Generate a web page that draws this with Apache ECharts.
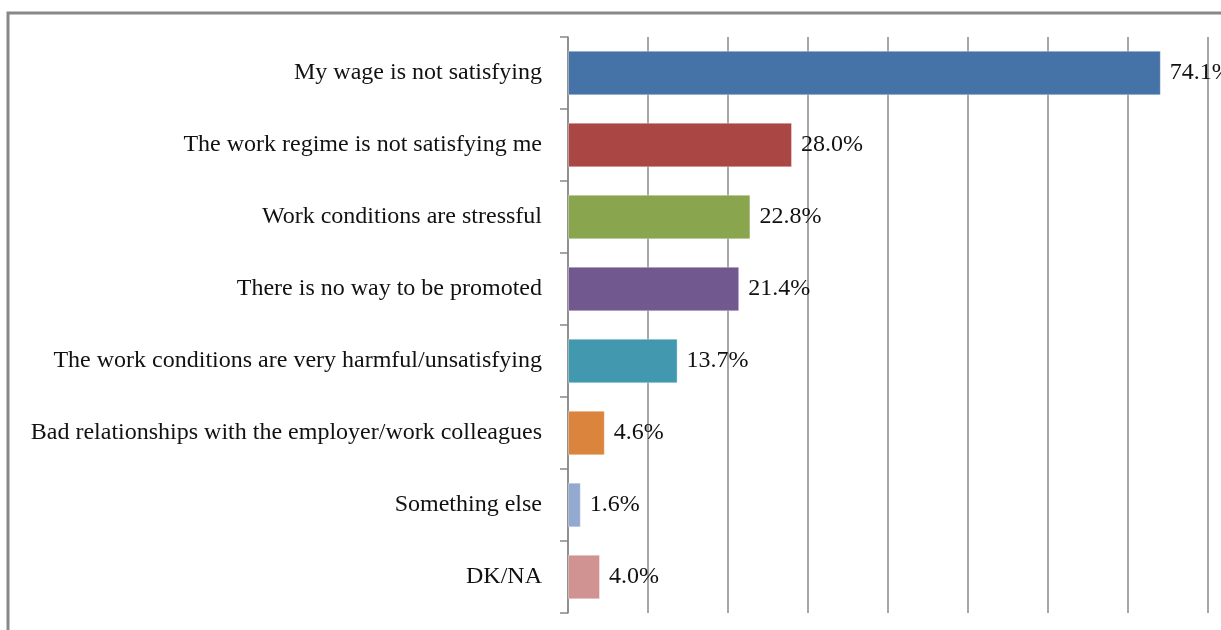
<!DOCTYPE html>
<html>
<head>
<meta charset="utf-8">
<script src="https://cdn.jsdelivr.net/npm/echarts@6/dist/echarts.min.js"></script>
<style>
  html, body { margin: 0; padding: 0; background: #fff; }
  #chart { width: 1221px; height: 630px; }
</style>
</head>
<body>
<div id="chart"></div>
<script>
// categories, top to bottom as in the picture
let reasons = [
	"My wage is not satisfying",
	"The work regime is not satisfying me",
	"Work conditions are stressful",
	"There is no way to be promoted",
	"The work conditions are very harmful/unsatisfying",
	"Bad relationships with the employer/work colleagues",
	"Something else",
	"DK/NA"
];
let shares = [74.1, 28.0, 22.8, 21.4, 13.7, 4.6, 1.6, 4.0];
let barColors = ["#4572A7", "#AA4643", "#89A54E", "#71588F", "#4198AF", "#DB843D", "#93A9CF", "#D19392"];
let xTicks = [0, 10, 20, 30, 40, 50, 60, 70, 80];

let myEchart = echarts.init(document.getElementById("chart"));
let serif = "'Liberation Serif', serif";

let opt = {
	animation: false,
	graphic: [{
		type: "rect",
		shape: { x: 8, y: 13, width: 1240, height: 640 },
		style: { fill: "none", stroke: "#888", lineWidth: 3 }
	}],
	grid: { left: 568, right: 13, top: 37, height: 576 },
	xAxis: {
		type: "value",
		min: xTicks[0],
		max: xTicks[xTicks.length - 1],
		interval: 10,
		axisLabel: { show: false },
		axisLine: { show: false },
		axisTick: { show: false },
		splitLine: { lineStyle: { color: "#888", width: 1.5 } }
	},
	yAxis: {
		type: "category",
		inverse: true,
		data: reasons,
		axisLine: { lineStyle: { color: "#888", width: 1.5 } },
		axisTick: { show: true, length: 8, lineStyle: { color: "#888", width: 1.5 } },
		axisLabel: { color: "#111", fontFamily: serif, fontSize: 24, margin: 26, padding: [3, 0, 0, 0] }
	},
	series: [{
		type: "bar",
		barWidth: "62%",
		data: shares.map((v, i) => ({
			value: v,
			itemStyle: { color: barColors[i], borderColor: "rgba(255,255,255,0.35)", borderWidth: 1 }
		})),
		label: {
			show: true,
			position: "right",
			distance: 9,
			color: "#111",
			fontFamily: serif,
			fontSize: 24,
			padding: [3, 0, 0, 0],
			formatter: p => p.value.toFixed(1) + "%"
		}
	}]
};
myEchart.setOption(opt);
</script>
</body>
</html>
